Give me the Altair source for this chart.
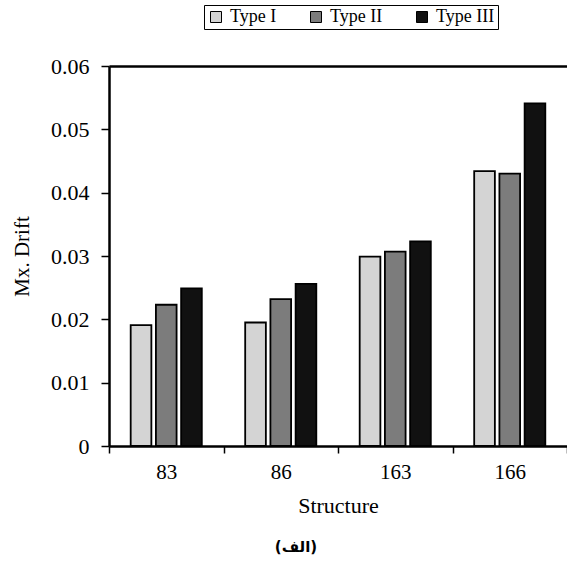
import altair as alt
import pandas as pd

structures = ["83", "86", "163", "166"]
types = ["Type I", "Type II", "Type III"]
type_i = [0.0191, 0.0195, 0.0299, 0.0434]
type_ii = [0.0223, 0.0232, 0.0307, 0.0430]
type_iii = [0.0249, 0.0256, 0.0323, 0.0541]
y_ticks = [0, 0.01, 0.02, 0.03, 0.04, 0.05, 0.06]

rows = []
for t, vals in zip(types, [type_i, type_ii, type_iii]):
    for s, v in zip(structures, vals):
        rows.append({"Structure": s, "Type": t, "Drift": v})
df = pd.DataFrame(rows)

serif = "Liberation Serif"

x_enc_bottom = alt.X(
    "Structure:N",
    sort=structures,
    scale=alt.Scale(paddingInner=0, paddingOuter=0),
    axis=alt.Axis(
        orient="bottom", title="Structure", labelAngle=0, tickBand="extent",
        domainColor="black", domainWidth=2.5, tickColor="black", tickWidth=1.5,
        tickSize=7, labelFont=serif, labelFontSize=21, labelColor="black",
        labelPadding=8, titleFont=serif, titleFontSize=22, titleFontWeight="normal",
        titleColor="black", titlePadding=13,
    ),
)

bars = alt.Chart(df).mark_bar(stroke="black", strokeWidth=1.8).encode(
    x=x_enc_bottom,
    xOffset=alt.XOffset("Type:N", sort=types,
                        scale=alt.Scale(paddingInner=0.18, paddingOuter=0.86)),
    y=alt.Y(
        "Drift:Q",
        scale=alt.Scale(domain=[0, 0.06], nice=False),
        axis=alt.Axis(
            values=y_ticks, title="Mx. Drift", grid=False,
            domainColor="black", domainWidth=2.5, tickColor="black", tickWidth=1.5,
            tickSize=8, labelFont=serif, labelFontSize=22, labelColor="black",
            labelPadding=12, titleFont=serif, titleFontSize=21,
            titleFontWeight="normal", titleColor="black", titlePadding=18,
            labelExpr="datum.value == 0 ? '0' : format(datum.value, '.2f')",
        ),
    ),
    color=alt.Color(
        "Type:N", sort=types,
        scale=alt.Scale(domain=types, range=["#d4d4d4", "#7c7c7c", "#111111"]),
        legend=alt.Legend(
            title=None, orient="none", direction="horizontal", columns=3,
            legendX=95, legendY=-61, strokeColor="black", padding=3,
            columnPadding=30, symbolType="square", symbolSize=121,
            symbolStrokeColor="black", symbolStrokeWidth=1,
            labelFont=serif, labelFontSize=18, labelColor="black", labelOffset=5,
        ),
    ),
)

top_line = alt.Chart(df).mark_tick(opacity=0).encode(
    x=alt.X(
        "Structure:N", sort=structures,
        axis=alt.Axis(orient="top", labels=False, ticks=False, title=None,
                      domainColor="black", domainWidth=2.5),
    ),
    y=alt.Y("Drift:Q"),
)

chart = alt.layer(bars, top_line).resolve_axis(x="independent").properties(
    width=458,
    height=380,
    padding={"left": 109, "top": 66, "right": 0, "bottom": 115},
    autosize=alt.AutoSizeParams(type="none"),
    title=alt.TitleParams(
        "(الف)", orient="bottom", anchor="middle", dx=-42, offset=24,
        font="DejaVu Sans", fontSize=15, fontWeight="bold", color="black",
    ),
).configure_view(stroke=None).configure(background="white")

chart.save("out.html", embed_options={"renderer": "svg", "actions": False})
